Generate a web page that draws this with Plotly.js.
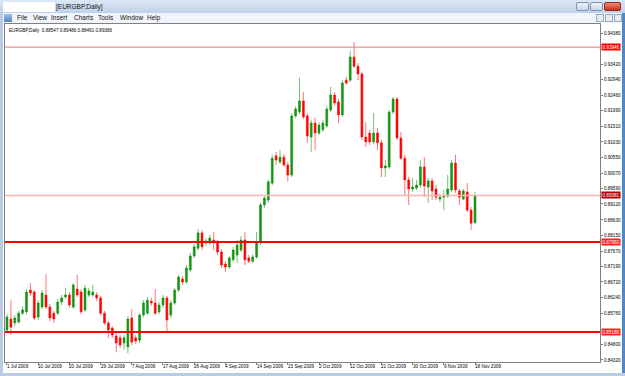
<!DOCTYPE html>
<html><head><meta charset="utf-8">
<script src="https://cdn.plot.ly/plotly-3.0.1.min.js"></script>
<style>
html,body{margin:0;padding:0;background:#fff;}
#wrap{position:relative;width:625px;height:376px;overflow:hidden;background:#fff;}
#chart{position:absolute;left:0;top:0;width:625px;height:376px;}
.ov{position:absolute;font-family:"Liberation Sans",Arial,sans-serif;white-space:nowrap;}
.menu{top:13px;font-size:6.5px;line-height:10px;color:#111;}
</style></head><body>
<div id="wrap">
<div id="chart"></div>
<div class="ov" style="left:0;top:0;width:625px;height:13px;background:linear-gradient(#dbe7f5,#bfd2ea);"></div>
<div class="ov" style="left:3px;top:2px;width:52px;height:10px;background:#fff;"></div>
<div class="ov" style="left:56px;top:2px;font-size:6.5px;line-height:10px;color:#111;">[EURGBP,Daily]</div>
<div class="ov" style="left:576px;top:2px;width:13px;height:9px;background:linear-gradient(#eef3fa,#c9d7ea);border:1px solid #7d95b5;box-sizing:border-box;border-radius:2px;"></div>
<div class="ov" style="left:590px;top:2px;width:13px;height:9px;background:linear-gradient(#eef3fa,#c9d7ea);border:1px solid #7d95b5;box-sizing:border-box;border-radius:2px;"></div>
<div class="ov" style="left:604px;top:2px;width:17px;height:9px;background:linear-gradient(#f08a7a,#c8321e);border:1px solid #8a2b1c;box-sizing:border-box;border-radius:2px;"></div>
<div class="ov" style="left:0;top:13px;width:625px;height:10px;background:#f1f5fb;"></div>
<div class="ov" style="left:4px;top:14px;width:8px;height:8px;background:linear-gradient(#9fc2e6,#4f82bd);"></div>
<div class="ov menu" style="left:17px;">File</div>
<div class="ov menu" style="left:33px;">View</div>
<div class="ov menu" style="left:51px;">Insert</div>
<div class="ov menu" style="left:74px;">Charts</div>
<div class="ov menu" style="left:98px;">Tools</div>
<div class="ov menu" style="left:120px;">Window</div>
<div class="ov menu" style="left:147px;">Help</div>
<div class="ov" style="left:596px;top:14px;width:8px;height:8px;background:#e4ebf5;border:1px solid #9aaac0;box-sizing:border-box;"></div>
<div class="ov" style="left:605px;top:14px;width:8px;height:8px;background:#e4ebf5;border:1px solid #9aaac0;box-sizing:border-box;"></div>
<div class="ov" style="left:614px;top:14px;width:8px;height:8px;background:#e4ebf5;border:1px solid #9aaac0;box-sizing:border-box;"></div>
<div class="ov" style="left:0;top:13px;width:3px;height:363px;background:#b9cce4;"></div>
<div class="ov" style="left:622px;top:13px;width:3px;height:363px;background:#4f88c2;"></div>
<div class="ov" style="left:0;top:373px;width:625px;height:3px;background:#b9cce4;"></div>
</div>
<script>
const dates = [
"2009-07-01","2009-07-02","2009-07-03","2009-07-05","2009-07-06","2009-07-07","2009-07-08","2009-07-09","2009-07-10",
"2009-07-12","2009-07-13","2009-07-14","2009-07-15","2009-07-16","2009-07-17",
"2009-07-19","2009-07-20","2009-07-21","2009-07-22","2009-07-23","2009-07-24",
"2009-07-26","2009-07-27","2009-07-28","2009-07-29","2009-07-30","2009-07-31",
"2009-08-02","2009-08-03","2009-08-04","2009-08-05","2009-08-06","2009-08-07",
"2009-08-09","2009-08-10","2009-08-11","2009-08-12","2009-08-13","2009-08-14",
"2009-08-16","2009-08-17","2009-08-18","2009-08-19","2009-08-20","2009-08-21",
"2009-08-23","2009-08-24","2009-08-25","2009-08-26","2009-08-27","2009-08-28",
"2009-08-30","2009-08-31","2009-09-01","2009-09-02","2009-09-03","2009-09-04",
"2009-09-06","2009-09-07","2009-09-08","2009-09-09","2009-09-10","2009-09-11",
"2009-09-13","2009-09-14","2009-09-15","2009-09-16","2009-09-17","2009-09-18",
"2009-09-20","2009-09-21","2009-09-22","2009-09-23","2009-09-24","2009-09-25",
"2009-09-27","2009-09-28","2009-09-29","2009-09-30","2009-10-01","2009-10-02",
"2009-10-04","2009-10-05","2009-10-06","2009-10-07","2009-10-08","2009-10-09",
"2009-10-11","2009-10-12","2009-10-13","2009-10-14","2009-10-15","2009-10-16",
"2009-10-18","2009-10-19","2009-10-20","2009-10-21","2009-10-22","2009-10-23",
"2009-10-25","2009-10-26","2009-10-27","2009-10-28","2009-10-29","2009-10-30",
"2009-11-01","2009-11-02","2009-11-03","2009-11-04","2009-11-05","2009-11-06",
"2009-11-08","2009-11-09","2009-11-10","2009-11-11","2009-11-12","2009-11-13",
"2009-11-15","2009-11-16","2009-11-17","2009-11-18"];

const opens = [
.8524,.8558,.8546,.8549,.8576,.8580,.8647,.8641,.8564,.8595,
.8632,.8595,.8576,.8576,.8610,.8626,.8632,.8595,.8650,.8641,
.8586,.8632,.8632,.8632,.8623,.8576,.8546,.8530,.8506,.8500,
.8484,.8472,.8561,.8500,.8493,.8570,.8576,.8613,.8607,.8580,
.8601,.8623,.8570,.8607,.8647,.8681,.8672,.8709,.8752,.8776,
.8823,.8792,.8792,.8801,.8792,.8764,.8727,.8718,.8740,.8755,
.8770,.8801,.8746,.8736,.8749,.8792,.8909,.8924,.8976,.9060,
.9041,.9056,.9032,.9001,.9183,.9195,.9229,.9183,.9118,.9161,
.9130,.9140,.9152,.9201,.9247,.9226,.9186,.9293,.9293,.9364,
.9336,.9312,.9118,.9130,.9103,.9130,.9100,.9023,.9026,.9195,
.9235,.9115,.9053,.8986,.8958,.8961,.8970,.9026,.8964,.8983,
.8958,.8927,.8933,.8936,.8955,.9038,.8952,.8927,.8949,.8893,
.88547];
const highs = [
.8573,.8616,.8570,.8583,.8598,.8650,.8669,.8647,.8616,.8647,
.8696,.8604,.8583,.8620,.8632,.8653,.8641,.8669,.8693,.8650,
.8663,.8653,.8663,.8641,.8629,.8583,.8552,.8536,.8515,.8509,
.8509,.8567,.8589,.8509,.8576,.8616,.8626,.8623,.8650,.8610,
.8632,.8629,.8616,.8653,.8693,.8690,.8724,.8761,.8789,.8835,
.8832,.8807,.8816,.8826,.8801,.8773,.8736,.8752,.8780,.8801,
.8813,.8826,.8755,.8758,.8826,.8915,.8940,.8986,.9063,.9072,
.9078,.9066,.9041,.9192,.9213,.9300,.9256,.9192,.9170,.9176,
.9164,.9170,.9213,.9272,.9256,.9235,.9293,.9303,.9383,.9410,
.9346,.9318,.9164,.9140,.9192,.9146,.9109,.9047,.9201,.9241,
.9241,.9133,.9063,.8995,.8992,.8986,.9047,.9056,.8992,.8992,
.8970,.8943,.8955,.9001,.9047,.9063,.8958,.8958,.8976,.8903,
.89486];
const lows = [
.8515,.8509,.8536,.8543,.8570,.8573,.8629,.8555,.8555,.8589,
.8589,.8552,.8546,.8570,.8601,.8620,.8592,.8589,.8626,.8573,
.8580,.8626,.8626,.8613,.8570,.8540,.8500,.8500,.8456,.8469,
.8463,.8453,.8478,.8481,.8484,.8564,.8570,.8598,.8570,.8573,
.8592,.8518,.8561,.8601,.8641,.8663,.8666,.8703,.8746,.8770,
.8770,.8783,.8786,.8770,.8755,.8715,.8703,.8712,.8733,.8730,
.8764,.8724,.8730,.8730,.8743,.8786,.8900,.8915,.8970,.9032,
.9035,.9026,.8980,.8995,.9176,.9189,.9173,.9100,.9072,.9078,
.9124,.9133,.9146,.9195,.9216,.9161,.9180,.9278,.9287,.9330,
.9293,.9109,.9087,.9093,.9096,.9078,.8995,.8995,.9020,.9189,
.9109,.9047,.8940,.8909,.8949,.8955,.8961,.8933,.8915,.8924,
.8924,.8918,.8893,.8930,.8949,.8946,.8909,.8924,.8887,.8832,
.88491];
const closes = [
.8564,.8533,.8561,.8576,.8586,.8641,.8638,.8561,.8607,.8638,
.8595,.8561,.8558,.8610,.8623,.8632,.8601,.8663,.8632,.8580,
.8653,.8644,.8641,.8623,.8576,.8546,.8524,.8509,.8484,.8478,
.8500,.8558,.8487,.8490,.8570,.8607,.8616,.8607,.8576,.8601,
.8623,.8555,.8607,.8647,.8687,.8672,.8715,.8752,.8780,.8823,
.8780,.8798,.8807,.8792,.8764,.8724,.8718,.8746,.8770,.8786,
.8801,.8740,.8736,.8749,.8792,.8909,.8930,.8980,.9053,.9047,
.9056,.9032,.9001,.9183,.9204,.9229,.9180,.9121,.9161,.9130,
.9155,.9161,.9204,.9247,.9223,.9186,.9284,.9284,.9364,.9336,
.9312,.9118,.9103,.9103,.9130,.9100,.9023,.9029,.9195,.9235,
.9115,.9053,.8986,.8958,.8964,.8970,.9026,.8967,.8983,.8952,
.8933,.8933,.8936,.8958,.9038,.8955,.8933,.8952,.8893,.8853,
.89366];

const xTickDates = ["2009-07-01","2009-07-10","2009-07-20","2009-07-29","2009-08-07","2009-08-17","2009-08-26","2009-09-04","2009-09-14","2009-09-23","2009-10-02","2009-10-12","2009-10-21","2009-10-30","2009-11-09","2009-11-18"];
const xTickLabels = ["1 Jul 2009","10 Jul 2009","20 Jul 2009","29 Jul 2009","7 Aug 2009","17 Aug 2009","26 Aug 2009","4 Sep 2009","14 Sep 2009","23 Sep 2009","2 Oct 2009","12 Oct 2009","21 Oct 2009","30 Oct 2009","9 Nov 2009","18 Nov 2009"];
const yTickVals = [0.9438,0.9342,0.9294,0.9246,0.9199,0.9151,0.9103,0.9055,0.9007,0.8959,0.8912,0.8863,0.8815,0.8767,0.8719,0.8672,0.8624,0.8576,0.8480,0.8432];
const yTickLabels = ["0.94380","0.93420","0.92940","0.92460","0.91990","0.91510","0.91030","0.90550","0.90070","0.89590","0.89120","0.88630","0.88150","0.87670","0.87190","0.86720","0.86240","0.85760","0.84800","0.84320"];
const levels = [0.93946, 0.89381, 0.87950, 0.85180];
const levelLabels = ["0.93946","0.89381","0.87950","0.85180"];
const headerText = "EURGBP,Daily  0.88547 0.89486 0.88491 0.89366";

const levelStyles = [
  {color:'#e07a7a', width:1, bg:'#ff0000'},
  {color:'#ffb3b3', width:1.5, bg:'#b00000'},
  {color:'#ff0000', width:2, bg:'#ff2020'},
  {color:'#ff0000', width:2, bg:'#ff2020'}
];

const FONT = '"Liberation Sans", Arial, sans-serif';
const LABEL_SIZE = 4.6;

const trace = {
  type:'candlestick', x:dates, open:opens, high:highs, low:lows, close:closes,
  increasing:{line:{color:'rgba(10,140,10,0.55)', width:1}, fillcolor:'#169a16'},
  decreasing:{line:{color:'rgba(255,0,0,0.55)', width:1}, fillcolor:'#ff0000'},
  whiskerwidth:0, hoverinfo:'skip', showlegend:false
};

const shapes = levels.map((v,i)=>({type:'line', xref:'paper', x0:0, x1:1, yref:'y', y0:v, y1:v,
  line:{color:levelStyles[i].color, width:levelStyles[i].width}, layer:'above'}));

const annotations = levels.map((v,i)=>({x:1, xref:'paper', xanchor:'left', xshift:1, y:v, yref:'y',
  yanchor:'middle', text:levelLabels[i], showarrow:false, bgcolor:levelStyles[i].bg, borderpad:0.5,
  font:{size:LABEL_SIZE, color:'#ffffff', family:FONT}}));
xTickDates.forEach((d,i)=>annotations.push({x:d, xref:'x', xanchor:'left', xshift:-1, y:0, yref:'paper',
  yanchor:'top', yshift:-1, text:xTickLabels[i], showarrow:false, borderpad:0,
  font:{size:LABEL_SIZE, color:'#000', family:FONT}}));
annotations.push({x:0, xref:'paper', xanchor:'left', xshift:2, y:1, yref:'paper', yanchor:'top', yshift:-2,
  text:headerText, showarrow:false, font:{size:LABEL_SIZE, color:'#000', family:FONT}});

const layout = {
  width:625, height:376,
  margin:{l:5, r:25, t:24, b:14, pad:0},
  paper_bgcolor:'#ffffff', plot_bgcolor:'#ffffff',
  showlegend:false, dragmode:false,
  font:{family:FONT, size:LABEL_SIZE, color:'#000'},
  xaxis:{type:'category', range:[-0.51,152.05], rangeslider:{visible:false},
    tickmode:'array', tickvals:xTickDates, showticklabels:false,
    ticks:'outside', ticklen:2, tickcolor:'#808080',
    showline:true, linecolor:'#808080', linewidth:1, mirror:true,
    showgrid:false, zeroline:false, fixedrange:true},
  yaxis:{side:'right', range:[0.84257,0.94657],
    tickmode:'array', tickvals:yTickVals, ticktext:yTickLabels,
    ticks:'outside', ticklen:2, tickcolor:'#808080',
    tickfont:{size:LABEL_SIZE, color:'#000', family:FONT},
    showline:true, linecolor:'#808080', linewidth:1, mirror:true,
    showgrid:false, zeroline:false, fixedrange:true},
  shapes:shapes, annotations:annotations
};

Plotly.newPlot('chart', [trace], layout, {staticPlot:true, displayModeBar:false});
</script>
</body></html>
